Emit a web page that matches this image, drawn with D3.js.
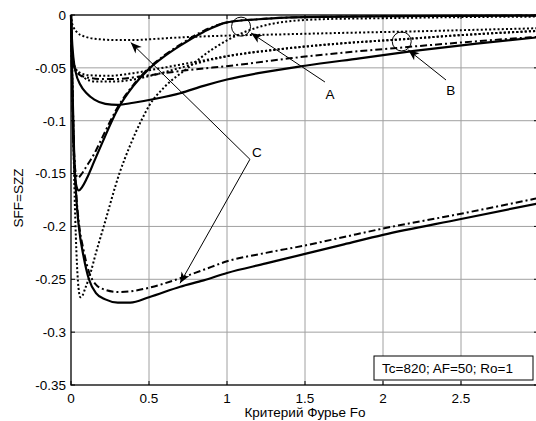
<!DOCTYPE html>
<html><head><meta charset="utf-8">
<script src="https://cdn.jsdelivr.net/npm/d3@7/dist/d3.min.js"></script>
<style>
body{margin:0;background:#fff;}
text{font-family:"Liberation Sans",Arial,sans-serif;}
</style></head>
<body><svg id="c" width="536" height="421"></svg>
<script>
// ---- data ----
const xTicks = [0, 0.5, 1, 1.5, 2, 2.5];
const yTicks = [0, -0.05, -0.1, -0.15, -0.2, -0.25, -0.3, -0.35];
const yTickLabels = ["0", "-0.05", "-0.1", "-0.15", "-0.2", "-0.25", "-0.3", "-0.35"];
const xLabel = "Критерий Фурье Fo";
const yLabel = "SFF=SZZ";
const legendText = "Tc=820; AF=50; Ro=1";

const fastSolid = [[0,0],[0.005,-0.05],[0.012,-0.105],[0.022,-0.145],[0.035,-0.162],[0.05,-0.166],[0.07,-0.163],[0.1,-0.155],[0.15,-0.138],[0.2,-0.121],[0.3,-0.089],[0.4,-0.067],[0.5,-0.051],[0.6,-0.039],[0.7,-0.029],[0.85,-0.016],[1.0,-0.007],[1.2,-0.004],[1.5,-0.002],[2.0,-0.0012],[2.5,-0.0008],[3.0,-0.0005]];
const fastDashDot = [[0,0],[0.005,-0.05],[0.012,-0.1],[0.022,-0.138],[0.035,-0.152],[0.045,-0.154],[0.065,-0.151],[0.1,-0.143],[0.15,-0.131],[0.2,-0.116],[0.3,-0.087],[0.4,-0.066],[0.5,-0.050],[0.6,-0.038],[0.7,-0.028],[0.85,-0.015],[1.0,-0.007],[1.2,-0.004],[1.5,-0.002],[2.0,-0.0012],[2.5,-0.0008],[3.0,-0.0005]];
const deepDotted = [[0,0],[0.01,-0.07],[0.02,-0.15],[0.035,-0.225],[0.048,-0.258],[0.06,-0.267],[0.075,-0.265],[0.09,-0.259],[0.115,-0.249],[0.16,-0.225],[0.21,-0.2],[0.31,-0.15],[0.38,-0.123],[0.45,-0.1],[0.5,-0.086],[0.6,-0.068],[0.75,-0.05],[0.9,-0.033],[1.0,-0.024],[1.15,-0.014],[1.3,-0.008],[1.6,-0.004],[2.0,-0.003],[2.5,-0.002],[3.0,-0.0015]];
const deepSolid = [[0,0],[0.008,-0.06],[0.02,-0.13],[0.035,-0.175],[0.05,-0.2],[0.08,-0.228],[0.115,-0.25],[0.16,-0.263],[0.22,-0.269],[0.3,-0.272],[0.38,-0.272],[0.5,-0.267],[0.7,-0.257],[0.85,-0.251],[1.0,-0.244],[1.25,-0.235],[1.5,-0.226],[1.75,-0.217],[2.0,-0.208],[2.5,-0.193],[3.0,-0.178]];
const deepDashDot = [[0,0],[0.008,-0.06],[0.02,-0.13],[0.035,-0.172],[0.05,-0.196],[0.08,-0.222],[0.115,-0.243],[0.16,-0.255],[0.22,-0.26],[0.3,-0.262],[0.4,-0.261],[0.5,-0.258],[0.7,-0.249],[0.85,-0.241],[1.0,-0.233],[1.25,-0.225],[1.5,-0.218],[1.75,-0.21],[2.0,-0.202],[2.5,-0.188],[3.0,-0.173]];
const midSolid = [[0,0],[0.005,-0.02],[0.015,-0.04],[0.03,-0.054],[0.06,-0.066],[0.1,-0.074],[0.15,-0.08],[0.22,-0.084],[0.3,-0.085],[0.4,-0.083],[0.55,-0.079],[0.7,-0.074],[0.85,-0.067],[1.0,-0.061],[1.2,-0.055],[1.5,-0.048],[1.85,-0.041],[2.2,-0.034],[2.6,-0.027],[3.0,-0.021]];
const midDashDot = [[0,0],[0.004,-0.025],[0.013,-0.045],[0.04,-0.055],[0.1,-0.059],[0.2,-0.0605],[0.3,-0.0605],[0.45,-0.058],[0.7,-0.053],[1.08,-0.047],[1.4,-0.041],[1.72,-0.036],[2.1,-0.031],[2.5,-0.026],[3.0,-0.0205]];
const midDottedUpper = [[0,0],[0.004,-0.028],[0.015,-0.046],[0.05,-0.054],[0.12,-0.057],[0.25,-0.0575],[0.4,-0.055],[0.55,-0.051],[0.7,-0.047],[0.85,-0.043],[1.0,-0.039],[1.3,-0.033],[1.72,-0.027],[2.12,-0.023],[2.5,-0.019],[3.0,-0.015]];
const midDottedLower = [[0,0],[0.005,-0.03],[0.026,-0.05],[0.08,-0.059],[0.16,-0.063],[0.27,-0.063],[0.4,-0.061],[0.55,-0.056],[0.7,-0.050],[0.85,-0.044],[1.0,-0.039],[1.3,-0.033],[1.72,-0.027],[2.12,-0.023],[2.5,-0.019],[3.0,-0.015]];
const topDotted = [[0,0],[0.004,-0.006],[0.015,-0.011],[0.036,-0.016],[0.08,-0.020],[0.186,-0.023],[0.3,-0.0237],[0.4,-0.0237],[0.55,-0.0225],[0.7,-0.0212],[1.0,-0.0195],[1.3,-0.0185],[1.72,-0.017],[2.2,-0.0155],[2.6,-0.014],[3.0,-0.0125]];

// annotations (data coordinates)
const circles = [[1.09,-0.011],[2.12,-0.025]];
const arrows = [ // [from, to]
  [[1.628,-0.0634],[1.154,-0.017]],
  [[2.404,-0.0615],[2.162,-0.0331]],
  [[1.147,-0.1365],[0.383,-0.026]],
  [[1.147,-0.1365],[0.699,-0.2538]]
];
const labels = [["A",1.66,-0.0747],["B",2.434,-0.071],["C",1.192,-0.1296]];

// ---- drawing ----
const svg = d3.select("#c");
const x = d3.scaleLinear().domain([0,3]).range([71,539]);
const y = d3.scaleLinear().domain([-0.35,0]).range([385,15]);
const FS = 13.5;

// grid
const g = svg.append("g");
g.selectAll(".vg").data(xTicks.slice(1)).enter().append("line")
  .attr("x1",d=>x(d)).attr("x2",d=>x(d)).attr("y1",y(0)).attr("y2",y(-0.35))
  .attr("stroke","#a0a0a0").attr("stroke-width",1);
g.selectAll(".hg").data(yTicks.slice(1,-1)).enter().append("line")
  .attr("x1",x(0)).attr("x2",x(3)).attr("y1",d=>y(d)).attr("y2",d=>y(d))
  .attr("stroke","#a0a0a0").attr("stroke-width",1);

// curves
const line = d3.line().x(d=>x(d[0])).y(d=>y(d[1])).curve(d3.curveMonotoneX);
const series = [
  [deepSolid,"solid"],[deepDashDot,"dashdot"],[deepDotted,"dot"],
  [midSolid,"solid"],[midDashDot,"dashdot"],[midDottedUpper,"dot"],[midDottedLower,"dot"],
  [topDotted,"dot"],[fastDashDot,"dashdot"],[fastSolid,"solid"]
];
const dash = {solid:null, dashdot:"7,3,2,3", dot:"2,2.2"};
series.forEach(([data,st])=>{
  svg.append("path").attr("d",line(data)).attr("fill","none")
    .attr("stroke","#000").attr("stroke-width",st==="solid"?2.2:2)
    .attr("stroke-dasharray",dash[st]);
});

// axes box
const ax = svg.append("g");
ax.append("rect").attr("x",x(0)).attr("y",y(0)).attr("width",x(3)-x(0)).attr("height",y(-0.35)-y(0))
  .attr("fill","none").attr("stroke","#000").attr("stroke-width",1.3);
// ticks
xTicks.forEach(t=>{
  ax.append("line").attr("x1",x(t)).attr("x2",x(t)).attr("y1",y(-0.35)).attr("y2",y(-0.35)-4).attr("stroke","#000");
  ax.append("line").attr("x1",x(t)).attr("x2",x(t)).attr("y1",y(0)).attr("y2",y(0)+4).attr("stroke","#000");
  ax.append("text").attr("x",x(t)).attr("y",y(-0.35)+18).attr("text-anchor","middle")
    .attr("font-size",FS).text(String(t));
});
yTicks.forEach((t,i)=>{
  ax.append("line").attr("x1",x(0)).attr("x2",x(0)+4).attr("y1",y(t)).attr("y2",y(t)).attr("stroke","#000");
  ax.append("line").attr("x1",x(3)).attr("x2",x(3)-5).attr("y1",y(t)).attr("y2",y(t)).attr("stroke","#000");
  ax.append("text").attr("x",x(0)-5).attr("y",y(t)).attr("dy","0.36em").attr("text-anchor","end")
    .attr("font-size",FS).text(yTickLabels[i]);
});
ax.append("text").attr("x",305).attr("y",417).attr("text-anchor","middle").attr("font-size",FS).text(xLabel);
ax.append("text").attr("transform","translate(23,198) rotate(-90)").attr("text-anchor","middle")
  .attr("font-size",FS).text(yLabel);

// annotations
circles.forEach(c=>{
  svg.append("circle").attr("cx",x(c[0])).attr("cy",y(c[1])).attr("r",9.5)
    .attr("fill","none").attr("stroke","#000").attr("stroke-width",1);
});
arrows.forEach(([a,b])=>{
  const x1=x(a[0]),y1=y(a[1]),x2=x(b[0]),y2=y(b[1]);
  svg.append("line").attr("x1",x1).attr("y1",y1).attr("x2",x2).attr("y2",y2)
    .attr("stroke","#000").attr("stroke-width",1);
  const ang=Math.atan2(y2-y1,x2-x1);
  const L=11,W=4.5,N=8;
  const p=(d,s)=>[x2-d*Math.cos(ang)-s*Math.sin(ang), y2-d*Math.sin(ang)+s*Math.cos(ang)];
  const pts=[[x2,y2],p(L,W),p(N,0),p(L,-W)];
  svg.append("path").attr("d","M"+pts.map(q=>q.join(",")).join("L")+"Z").attr("fill","#000");
});
labels.forEach(l=>{
  svg.append("text").attr("x",x(l[1])).attr("y",y(l[2])).attr("dy","0.36em").attr("text-anchor","middle")
    .attr("font-size",FS).text(l[0]);
});

// legend box
svg.append("rect").attr("x",374).attr("y",356).attr("width",159).attr("height",24)
  .attr("fill","#fff").attr("stroke","#000").attr("stroke-width",1);
svg.append("text").attr("x",382).attr("y",373).attr("font-size",FS).text(legendText);
</script></body></html>
